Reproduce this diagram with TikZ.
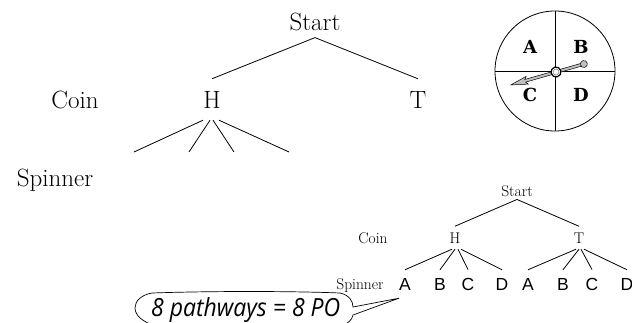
\documentclass[tikz,border=0pt]{standalone}
\usepackage{fontspec}
\setsansfont{Liberation Sans}
\newfontfamily\handfont{Open Sans}
\newfontfamily\dialfont{DejaVu Serif}

\begin{document}
\begin{tikzpicture}[x=1pt,y=-1pt,
  big/.style={anchor=base, inner xsep=1pt, font=\fontsize{25}{25}\selectfont},
  small/.style={anchor=base, inner xsep=1pt, font=\fontsize{15.5}{16}\selectfont},
  letter/.style={anchor=base, inner xsep=0pt, inner ysep=8pt, font=\sffamily\fontsize{17.5}{18}\selectfont},
  dial/.style={font=\dialfont\bfseries\fontsize{18}{18}\selectfont},
  every edge/.style={draw, line width=.8pt}]
\useasboundingbox (0,0) rectangle (632,322);
%\draw [help lines, step=20] (0,0) grid (632,322);

% big tree
\node[big, inner ysep=7pt] (S0) at (315,30) {Start};
\node[big] (C0) at (75,108) {Coin};
\node[big, inner ysep=12pt] (H0) at (212,108) {H};
\node[big, inner ysep=12pt] (T0) at (418,108) {T};
\node[big] (Sp0) at (55,186) {Spinner};

\coordinate (h1) at (134,152);
\coordinate (h2) at (189,152);
\coordinate (h3) at (234,152);
\coordinate (h4) at (289,152);

% small tree
\node[small, inner ysep=3pt] (S1) at (517,196) {Start};
\node[small] (C1) at (373,243) {Coin};
\node[small, inner ysep=6pt] (H1) at (455,243) {H};
\node[small, inner ysep=6pt] (T1) at (579,243) {T};
\node[small] (Sp1) at (360,289) {Spinner};

\node[letter] (A1) at (405,290) {A};
\node[letter] (B1) at (440,290) {B};
\node[letter] (C1x) at (468,290) {C};
\node[letter] (D1) at (502,290) {D};
\node[letter] (A2) at (528,290) {A};
\node[letter] (B2) at (563,290) {B};
\node[letter] (C2) at (592,290) {C};
\node[letter] (D2) at (627,290) {D};

\path
% start to coin
(S0.south) edge (H0.north)
(S0.south) edge (T0.north)
% H to spinner
([xshift=-9pt]H0.south) edge (h1)
([xshift=-2pt]H0.south) edge (h2)
([xshift=1pt]H0.south) edge (h3)
([xshift=7pt]H0.south) edge (h4)

% start to coin
(S1.south) edge (H1.north)
(S1.south) edge (T1.north)
% H to spinner
([xshift=-3pt]H1.south) edge (A1.north)
([xshift=0pt]H1.south) edge (B1.north)
([xshift=3pt]H1.south) edge (C1x.north)
([xshift=6pt]H1.south) edge (D1.north)
% T to spinner
([xshift=-3pt]T1.south) edge (A2.north)
([xshift=0pt]T1.south) edge (B2.north)
([xshift=2pt]T1.south) edge (C2.north)
([xshift=5pt]T1.south) edge (D2.north);

% spinner
\coordinate (O) at (555,71);
\draw[line width=.8pt] (O) circle (60pt);
\draw[line width=.8pt] (555,11) -- (555,131);
\draw[line width=.8pt] (495,71) -- (615,71);
\node[dial] (qA) at (530,47) {A};
\node[dial] (qB) at (581,47) {B};
\node[dial] (qC) at (530,95) {C};
\node[dial] (qD) at (581,95) {D};

\begin{scope}[shift={(556,72)}, rotate=16]
\draw[fill=gray!50, line width=.5pt] (-47,0) -- (-30,4) -- (-32,1.4) -- (29,1.4)
  -- (29,-1.4) -- (-32,-1.4) -- (-30,-4) -- cycle;
\draw[fill=gray!50, line width=.5pt] (29,0) circle (3.5pt);
\draw[fill=white, line width=1.2pt] (0,0) circle (5pt);
\draw[gray, line width=.6pt] (0,0) circle (3pt);
\end{scope}

% callout
\node[anchor=base west, inner sep=0pt, font=\handfont\itshape\fontsize{25}{25}\selectfont] (note) at (151,316) {\scalebox{.92}[1]{8 pathways = 8 PO}};
\draw[line width=.7pt] (156,326) .. controls (142,322) and (135,315) .. (135,308)
  .. controls (135,301) and (141,295) .. (152,293)
  .. controls (210,291) and (290,291) .. (340,293)
  .. controls (349,295) and (353,301) .. (353,307)
  -- (A1.south west) -- (353,315)
  .. controls (352,320) and (348,324) .. (340,326);
\end{tikzpicture}
\end{document}
